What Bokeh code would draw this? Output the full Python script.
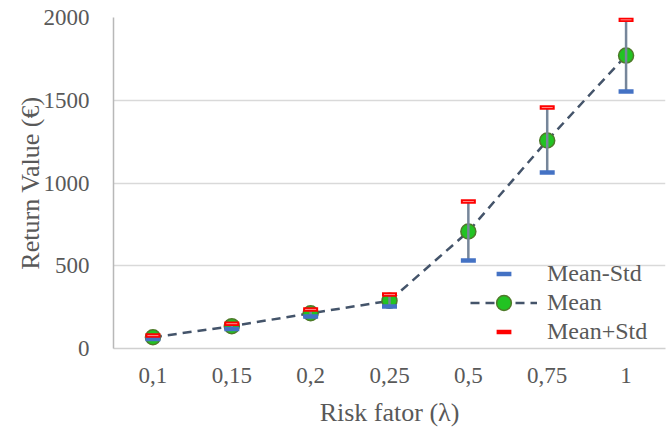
from bokeh.plotting import figure
from bokeh.models import ColumnDataSource, FactorRange, Range1d, FixedTicker, Legend, LegendItem
from bokeh.embed import file_html
from bokeh.resources import INLINE

# ---- data ----
lambdas = ["0,1", "0,15", "0,2", "0,25", "0,5", "0,75", "1"]
mean_vals = [68, 135, 213, 288, 707, 1257, 1770]
upper_vals = [78, 150, 236, 326, 888, 1456, 1986]
lower_vals = [58, 118, 193, 254, 532, 1063, 1553]
y_ticks = [0, 500, 1000, 1500, 2000]

FONT = "Liberation Serif"
TXT = "#595959"

src = ColumnDataSource(dict(x=lambdas, mean=mean_vals, upper=upper_vals, lower=lower_vals))

p = figure(width=668, height=429, x_range=FactorRange(*lambdas, range_padding=0),
           y_range=Range1d(0, 2000), output_backend="svg", toolbar_location=None,
           min_border_left=113, min_border_right=3, min_border_top=17, min_border_bottom=81)
p.outline_line_color = None
p.background_fill_color = "white"

# axes
p.yaxis.ticker = FixedTicker(ticks=y_ticks)
p.xaxis.major_tick_line_color = None
p.yaxis.major_tick_line_color = None
p.xaxis.minor_tick_line_color = None
p.yaxis.minor_tick_line_color = None
p.xaxis.major_label_text_font = FONT
p.yaxis.major_label_text_font = FONT
p.xaxis.major_label_text_font_size = "23px"
p.yaxis.major_label_text_font_size = "23px"
p.xaxis.major_label_text_color = TXT
p.yaxis.major_label_text_color = TXT
p.yaxis.axis_line_color = "#b8b8b8"
p.yaxis.axis_line_width = 1.5
p.xaxis.axis_line_color = "#d0d0d0"
p.xaxis.axis_line_width = 1.5
p.yaxis.major_label_standoff = 18
p.xaxis.major_label_standoff = 13

p.yaxis.axis_label = "Return Value (€)"
p.xaxis.axis_label = "Risk fator (λ)"
for ax in (p.xaxis, p.yaxis):
    ax.axis_label_text_font = FONT
    ax.axis_label_text_font_size = "26px"
    ax.axis_label_text_font_style = "normal"
    ax.axis_label_text_color = TXT
p.yaxis.axis_label_standoff = -4
p.xaxis.axis_label_standoff = 12

p.xgrid.grid_line_color = None
p.ygrid.grid_line_color = "#d9d9d9"
p.ygrid.grid_line_width = 1.5

# glyphs
ln = p.line("x", "mean", source=src, line_color="#44546a", line_width=2.5, line_dash="9 6")
circ = p.scatter("x", "mean", source=src, marker="circle", size=15,
                 fill_color="#22c322", line_color="#4f7a2a", line_width=1.5)
p.segment(x0="x", y0="lower", x1="x", y1="upper", source=src,
          line_color="#76869a", line_width=2.5)
blue = p.scatter("x", "lower", source=src, marker="dash", size=15,
                 line_color="#4472c4", line_width=4.5)
red = p.scatter("x", "upper", source=src, marker="dash", size=15,
                line_color="#ff0000", line_width=4.5)
p.scatter("x", "upper", source=src, marker="dash", size=11,
          line_color="#ff8a8a", line_width=1)

# legend: one entry per Legend so rows can sit closer than the glyph box height
entries = [("Mean-Std", [blue], 56), ("Mean", [ln, circ], 27), ("Mean+Std", [red], -2)]
for label, rends, yloc in entries:
    lg = Legend(items=[LegendItem(label=label, renderers=rends)],
                location=(357, yloc), glyph_width=67, glyph_height=37, label_height=37,
                spacing=0, label_standoff=10, padding=0, margin=0,
                background_fill_alpha=0, border_line_alpha=0,
                label_text_font=FONT, label_text_font_size="24px", label_text_color=TXT)
    p.add_layout(lg, "center")

open("out.html", "w").write(file_html(p, INLINE))
